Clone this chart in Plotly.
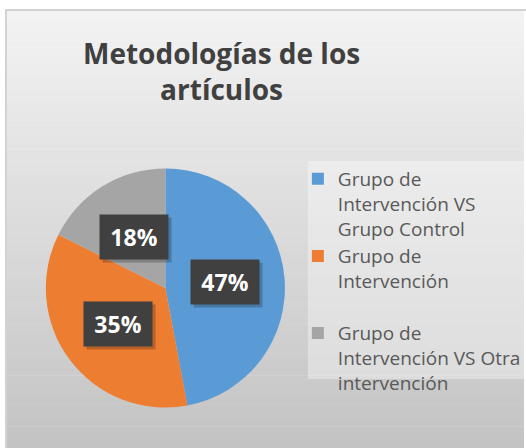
import math
import plotly.graph_objects as go

# ---- data ----
categories = [
    "Grupo de<br>Intervención VS<br>Grupo Control",
    "Grupo de<br>Intervención<br> ",
    "Grupo de<br>Intervención VS Otra<br>intervención",
]
values = [8, 6, 3]
colors = ["#5B9BD5", "#ED7D31", "#A5A5A5"]
title_text = "Metodologías de los<br>artículos"

W, H = 526, 448
# pie geometry (pixels)
cx, cy, r = 166, 288, 120

fig = go.Figure()
fig.add_trace(go.Pie(
    labels=categories,
    values=values,
    sort=False,
    direction="clockwise",
    rotation=0,
    marker=dict(colors=colors, line=dict(width=0)),
    textinfo="none",
    domain=dict(x=[(cx - r) / W, (cx + r) / W],
                y=[1 - (cy + r) / H, 1 - (cy - r) / H]),
    showlegend=True,
))

shapes = []
# background gradient inside the chart frame
x0p, y0p = 7, 11
n = 60
top_c, bot_c = 243, 195
for i in range(n):
    ya = y0p + (H - y0p) * i / n
    yb = y0p + (H - y0p) * (i + 1) / n
    c = round(top_c + (bot_c - top_c) * (i + 0.5) / n)
    shapes.append(dict(type="rect", xref="paper", yref="paper",
                       x0=x0p / W, x1=1, y0=1 - yb / H - 0.001, y1=1 - ya / H,
                       fillcolor=f"rgb({c},{c},{c})", line=dict(width=0),
                       layer="below"))
# frame border
shapes.append(dict(type="rect", xref="paper", yref="paper",
                   x0=6 / W, x1=1.01, y0=-0.01, y1=1 - 10 / H,
                   fillcolor="rgba(0,0,0,0)", line=dict(color="#c4c4c4", width=1.5),
                   layer="below"))
# lighter legend panel
shapes.append(dict(type="rect", xref="paper", yref="paper",
                   x0=309 / W, x1=1, y0=1 - 379 / H, y1=1 - 161 / H,
                   fillcolor="rgba(255,255,255,0.35)", line=dict(width=0),
                   layer="below"))

# percentage labels computed from the values
total = sum(values)
annotations = []
cum = 0
for v in values:
    frac = v / total
    mid = (cum + frac / 2) * 2 * math.pi
    cum += frac
    px = cx + 0.5 * r * math.sin(mid)
    py = cy - 0.5 * r * math.cos(mid)
    txt = f"{round(frac * 100)}%"
    # shadow
    annotations.append(dict(x=(px + 3) / W, y=1 - (py + 3) / H, xref="paper", yref="paper",
                            xanchor="center", yanchor="middle",
                            text=" ", showarrow=False, width=68, height=44,
                            bgcolor="rgba(0,0,0,0.22)", borderpad=0))
    annotations.append(dict(x=px / W, y=1 - py / H, xref="paper", yref="paper",
                            xanchor="center", yanchor="middle",
                            text=f"<b>{txt}</b>", showarrow=False, width=68, height=44,
                            bgcolor="#404040", borderpad=0,
                            font=dict(family="Open Sans", size=23, color="white")))

# title
annotations.append(dict(x=222 / W, y=1 - 71 / H, xref="paper", yref="paper",
                        xanchor="center", yanchor="middle", showarrow=False,
                        text=f"<b>{title_text}</b>",
                        font=dict(family="Open Sans", size=28, color="#404040")))

fig.update_layout(
    width=W, height=H,
    margin=dict(l=0, r=0, t=0, b=0),
    paper_bgcolor="white",
    plot_bgcolor="rgba(0,0,0,0)",
    legend=dict(x=299 / W, y=1 - 160 / H, xanchor="left", yanchor="top",
                bgcolor="rgba(0,0,0,0)",
                font=dict(family="Open Sans", size=19, color="#595959"),
                valign="top", tracegroupgap=0, itemwidth=30),
    shapes=shapes,
    annotations=annotations,
)

fig.write_html("out.html")
